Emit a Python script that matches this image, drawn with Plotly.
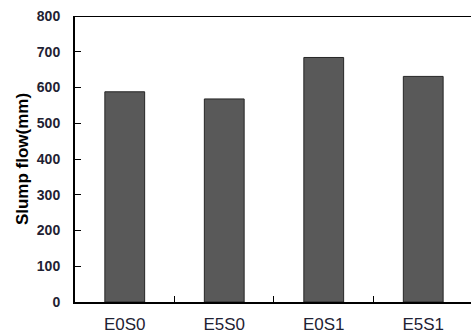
import plotly.graph_objects as go

# Slump flow results per mix
mixes = ["E0S0", "E5S0", "E0S1", "E5S1"]
slump_flow_mm = [588, 568, 684, 631]

y_ticks = [0, 100, 200, 300, 400, 500, 600, 700, 800]

FONT = "Liberation Sans, Arial, sans-serif"
LABEL_COLOR = "#1f2233"

fig = go.Figure()
fig.add_trace(go.Bar(
    x=mixes,
    y=slump_flow_mm,
    marker=dict(color="#595959", line=dict(color="#262626", width=1)),
    width=0.4,
))

fig.update_layout(
    width=471,
    height=333,
    margin=dict(l=75, r=0, t=16, b=31),
    paper_bgcolor="white",
    plot_bgcolor="white",
    showlegend=False,
    font=dict(family=FONT, color=LABEL_COLOR),
    xaxis=dict(
        type="category",
        range=[-0.5, 3.48],
        showline=True,
        linecolor="black",
        linewidth=2,
        ticks="inside",
        tickson="boundaries",
        ticklen=6,
        tickwidth=1,
        tickcolor="black",
        showgrid=False,
        zeroline=False,
        tickfont=dict(size=17, color=LABEL_COLOR, family=FONT),
        ticklabelstandoff=6,
    ),
    yaxis=dict(
        range=[0, 800],
        tickvals=y_ticks,
        showline=True,
        linecolor="black",
        linewidth=2,
        ticks="inside",
        ticklen=6,
        tickwidth=1,
        tickcolor="black",
        showgrid=False,
        zeroline=False,
        tickfont=dict(size=14, color=LABEL_COLOR, family=FONT, weight="bold"),
        ticklabelstandoff=10,
        title=dict(text="<b>Slump flow(mm)</b>",
                   font=dict(size=17, color="black", family=FONT),
                   standoff=4),
    ),
)

# Top frame line of the plotting area
fig.add_shape(type="line", xref="paper", yref="y", x0=0, x1=1, y0=800, y1=800,
              line=dict(color="black", width=2))

fig.write_html("out.html")
